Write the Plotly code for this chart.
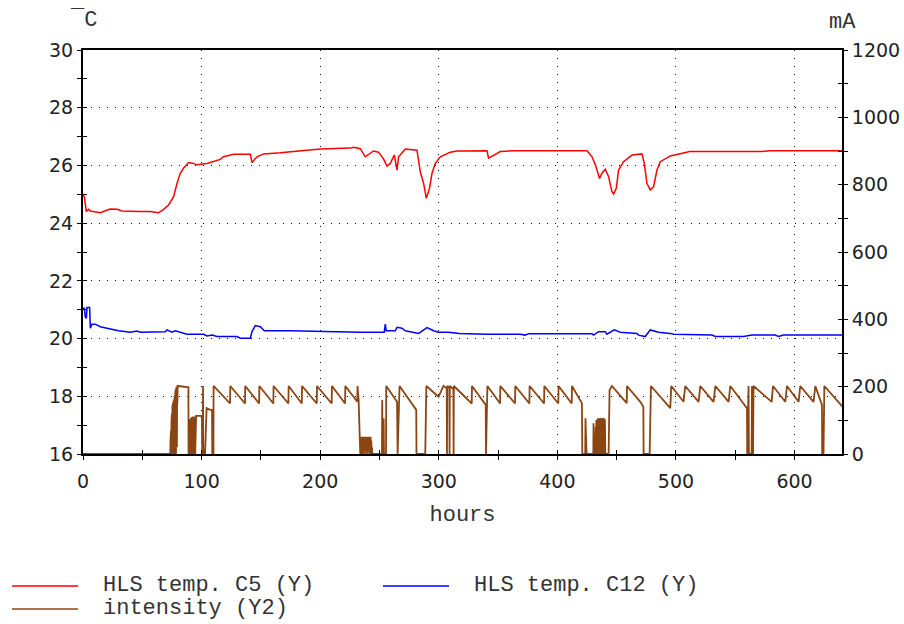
import plotly.graph_objects as go

# ---- HLS temperature at C5 (°C, left axis) ----
c5_hours = [0, 1.1, 2.8, 4.7, 6.2, 14.6, 18.8, 23.0, 28.7, 32.9, 48.3, 56.7, 63.7, 68.0, 72.2,
            76.4, 79.3, 82.0, 84.8, 89.0, 93.3, 96.1, 104.6, 110.1, 115.8, 118.5, 127.0, 141.1,
            142.5, 146.7, 152.3, 166.4, 177.6, 186.0, 200.1, 225.4, 228.2, 233.8, 238.0, 245.0,
            249.2, 253.5, 256.3, 259.1, 262.5, 264.8, 266.1, 271.8, 281.6, 284.4, 287.2, 289.5,
            292.2, 294.3, 297.1, 301.3, 309.7, 315.3, 329.3, 340.6, 342.0, 346.2, 351.9, 363.1,
            425.0, 429.2, 432.0, 435.6, 437.6, 440.4, 443.2, 446.0, 447.4, 449.7, 451.6, 455.8,
            462.9, 471.3, 473.3, 475.5, 478.3, 481.1, 484.0, 486.8, 495.2, 506.4, 511.5, 571.1,
            579.5, 640]
c5_temp = [24.98, 24.92, 24.40, 24.48, 24.42, 24.36, 24.43, 24.49, 24.48, 24.42, 24.40, 24.40,
           24.36, 24.48, 24.63, 24.92, 25.38, 25.73, 25.90, 26.10, 26.07, 26.02, 26.07, 26.15,
           26.21, 26.30, 26.39, 26.39, 26.10, 26.30, 26.40, 26.44, 26.48, 26.51, 26.57, 26.60,
           26.63, 26.58, 26.30, 26.50, 26.46, 26.22, 25.98, 26.07, 26.36, 25.84, 26.30, 26.57,
           26.53, 25.78, 25.38, 24.86, 25.21, 25.73, 26.07, 26.30, 26.46, 26.50, 26.51, 26.51,
           26.25, 26.36, 26.48, 26.51, 26.51, 26.30, 26.02, 25.55, 25.73, 25.87, 25.61, 25.09,
           25.01, 25.21, 25.84, 26.13, 26.36, 26.40, 26.07, 25.38, 25.15, 25.26, 25.84, 26.13,
           26.33, 26.43, 26.48, 26.48, 26.51, 26.51]

# ---- HLS temperature at C12 (°C, left axis) ----
c12_hours = [0, 1.1, 1.9, 2.8, 3.4, 5.6, 6.2, 7.6, 10.4, 14.6, 20.2, 30.0, 39.9, 45.5, 48.3,
             69.4, 70.8, 75.0, 77.8, 82.0, 87.7, 101.7, 104.6, 108.8, 113.0, 129.8, 132.6, 141.1,
             142.5, 145.3, 149.5, 152.9, 174.8, 233.8, 239.5, 254.0, 254.9, 255.7, 263.3, 264.8,
             269.0, 271.8, 283.0, 290.1, 295.6, 299.8, 308.3, 317.3, 340.1, 368.7, 372.9, 375.7,
             429.2, 430.5, 434.7, 440.4, 441.8, 448.0, 453.0, 467.1, 468.5, 474.1, 478.3, 485.3,
             495.2, 498.0, 530.4, 533.2, 557.0, 564.1, 583.7, 586.5, 590.7, 640]
c12_temp = [21.05, 21.05, 20.76, 20.70, 21.08, 21.08, 20.36, 20.50, 20.50, 20.41, 20.36, 20.27,
            20.22, 20.26, 20.22, 20.24, 20.30, 20.22, 20.27, 20.22, 20.15, 20.15, 20.09, 20.12,
            20.07, 20.07, 20.01, 20.01, 20.24, 20.45, 20.41, 20.27, 20.27, 20.22, 20.22, 20.22,
            20.50, 20.27, 20.27, 20.39, 20.36, 20.27, 20.18, 20.38, 20.27, 20.22, 20.22, 20.18,
            20.15, 20.15, 20.12, 20.17, 20.17, 20.12, 20.24, 20.24, 20.15, 20.30, 20.22, 20.18,
            20.12, 20.07, 20.30, 20.22, 20.18, 20.15, 20.12, 20.07, 20.07, 20.12, 20.12, 20.07,
            20.12, 20.12]

# ---- beam intensity (mA, right axis) as (hours, mA) samples ----
intensity = [
    (0, 0), (73.6, 0),
    (73.8, 40), (74.0, 0), (74.2, 70), (74.4, 0), (74.6, 95), (74.8, 0), (75.0, 120), (75.2, 0),
    (75.4, 140), (75.6, 0), (75.8, 150), (76.0, 0), (76.2, 155), (76.4, 10), (76.6, 158), (76.8, 0),
    (77.0, 160), (77.2, 20), (77.4, 175), (77.6, 0), (77.8, 185), (78.0, 40), (78.2, 190), (78.4, 0),
    (78.6, 195), (78.8, 60), (79.0, 200), (79.2, 20), (79.4, 200), (79.6, 150), (79.8, 202),
    (80.6, 202), (88.9, 198), (89.0, 0),
    (89.2, 60), (89.4, 0), (89.6, 85), (89.8, 0), (90.0, 100), (90.2, 5), (90.4, 104), (90.6, 0),
    (90.8, 106), (91.0, 10), (91.2, 108), (91.4, 0), (91.6, 108), (91.8, 0), (92.0, 110), (92.2, 20),
    (92.4, 110), (92.6, 0), (92.8, 111), (93.0, 0), (93.2, 111), (93.4, 30), (93.6, 111), (93.8, 0),
    (94.0, 111), (94.2, 10), (94.4, 111), (94.6, 0), (94.8, 113), (95.4, 113), (99.6, 113),
    (100.3, 108), (100.5, 0), (101.0, 0), (101.2, 202), (101.4, 0), (102.3, 15), (102.9, 0),
    (103.5, 60), (104.2, 136), (107.3, 131), (108.8, 131), (109.0, 0), (110.0, 0),
    (110.1, 202), (124.0, 150), (124.2, 202), (136.6, 150), (136.8, 202), (148.5, 150),
    (148.7, 202), (160.5, 150), (160.7, 202), (173.2, 150), (173.4, 202), (184.5, 150),
    (184.7, 202), (197.1, 150), (197.3, 202), (209.7, 150), (209.9, 202), (221.0, 150),
    (221.2, 202), (231.3, 155), (231.5, 202), (232.4, 160), (233.8, 0),
    (234.5, 0), (234.7, 51), (235.0, 0), (235.3, 51), (235.6, 10), (235.9, 51), (236.2, 0),
    (236.5, 45), (236.8, 0), (237.1, 51), (237.4, 20), (237.7, 51), (238.0, 0), (238.3, 40),
    (238.6, 0), (238.9, 51), (239.2, 10), (239.5, 51), (239.8, 0), (240.1, 45), (240.4, 0),
    (240.7, 51), (241.0, 15), (241.3, 51), (241.6, 0), (241.9, 35), (242.2, 0), (242.5, 51),
    (242.8, 0), (243.1, 40), (243.4, 0), (243.7, 20), (244.0, 0),
    (252.1, 0), (252.3, 160), (252.6, 0), (253.3, 0), (253.5, 106), (253.8, 0), (255.5, 0),
    (255.7, 202), (264.8, 155), (265.3, 0), (266.9, 202), (281.0, 131), (281.2, 0), (288.6, 0),
    (289.5, 202), (299.8, 170), (304.0, 202), (306.7, 195), (306.9, 0), (307.1, 202),
    (308.9, 197), (309.1, 0), (309.3, 202), (312.3, 192), (312.5, 0), (312.7, 202),
    (327.8, 150), (328.0, 202), (339.6, 146), (339.8, 0), (341.0, 202),
    (351.7, 150), (351.9, 202), (364.3, 150), (364.5, 202), (376.4, 150), (376.6, 202),
    (388.8, 150), (389.0, 202), (400.8, 150), (401.0, 202), (412.1, 150), (412.3, 202),
    (420.7, 151), (421.0, 0), (423.5, 0), (423.7, 106), (424.0, 0), (424.3, 106), (424.6, 0),
    (430.3, 0), (430.5, 91), (430.8, 0), (431.1, 60), (431.4, 0), (432.0, 0), (432.3, 80),
    (432.6, 0), (432.9, 101), (433.2, 0), (433.5, 101), (433.8, 10), (434.1, 106), (434.4, 0),
    (434.7, 106), (435.0, 20), (435.3, 104), (435.6, 0), (435.9, 106), (436.2, 15), (436.5, 104),
    (436.8, 0), (437.1, 106), (437.4, 10), (437.7, 106), (438.0, 0), (438.3, 106), (438.6, 20),
    (438.9, 104), (439.2, 0), (439.5, 104), (439.8, 10), (440.1, 101), (440.4, 0), (443.2, 0),
    (444.0, 190), (446.0, 202), (458.5, 151), (458.7, 202), (469.9, 155), (472.5, 140),
    (472.7, 0), (477.8, 0), (478.9, 202), (495.2, 136), (496.0, 202), (506.4, 155),
    (507.8, 202), (519.1, 155), (520.5, 202), (531.7, 155), (533.2, 202), (544.4, 155),
    (545.8, 202), (559.9, 136), (560.1, 0), (561.2, 202), (561.5, 0), (563.8, 0), (564.1, 202),
    (564.5, 0), (565.0, 0), (565.4, 202), (580.7, 155), (581.8, 202), (592.2, 155),
    (593.6, 202), (603.4, 155), (604.8, 202), (616.0, 155), (617.5, 202), (623.1, 146),
    (623.3, 0), (624.4, 0), (625.1, 202), (640, 142),
]
int_hours = [p[0] for p in intensity]
int_ma = [p[1] for p in intensity]

series = [
    dict(name="HLS temp. C5 (Y)", x=c5_hours, y=c5_temp, color="#ff0000", width=1.5, axis="y"),
    dict(name="HLS temp. C12 (Y)", x=c12_hours, y=c12_temp, color="#0000ff", width=1.5, axis="y"),
    dict(name="intensity (Y2)", x=int_hours, y=int_ma, color="#8b4513", width=1.8, axis="y2"),
]

X_RANGE = [0, 640]
T_RANGE = [16, 30]
MA_RANGE = [0, 1200]

TICK_FONT = dict(family="DejaVu Sans", size=19, color="#222222")
MONO_FONT = dict(family="Liberation Mono", size=22, color="#333333")
GRID_DASH = "1px,7px"
TICK_LEN = 4

fig = go.Figure()
for s in series:
    fig.add_trace(go.Scatter(x=s["x"], y=s["y"], name=s["name"], mode="lines",
                             line=dict(color=s["color"], width=s["width"]),
                             yaxis=s["axis"], showlegend=False))

# empty traces that hook up the overlay axes carrying the inward half of each tick
fig.add_trace(go.Scatter(x=[], y=[], xaxis="x2", yaxis="y3", showlegend=False, hoverinfo="skip"))
fig.add_trace(go.Scatter(x=[], y=[], xaxis="x2", yaxis="y4", showlegend=False, hoverinfo="skip"))

axis_common = dict(showline=True, linecolor="black", linewidth=2, ticks="outside",
                   ticklen=TICK_LEN, tickwidth=1, tickcolor="black", tickfont=TICK_FONT,
                   zeroline=False, automargin=False)
inner_common = dict(showline=False, showgrid=False, zeroline=False, showticklabels=False,
                    ticks="inside", ticklen=TICK_LEN, tickwidth=1, tickcolor="black",
                    automargin=False)

fig.update_layout(
    width=904, height=624,
    margin=dict(l=83, r=62, t=50, b=170),
    paper_bgcolor="white", plot_bgcolor="white",
    xaxis=dict(range=X_RANGE, tick0=0, dtick=100, mirror=True,
               showgrid=True, gridcolor="black", gridwidth=1, griddash=GRID_DASH,
               minor=dict(dtick=50, ticks="outside", ticklen=TICK_LEN, tickcolor="black",
                          showgrid=False),
               ticklabelstandoff=5,
               title=dict(text="hours", font=MONO_FONT, standoff=15),
               **axis_common),
    yaxis=dict(range=T_RANGE, tick0=16, dtick=2,
               showgrid=True, gridcolor="black", gridwidth=1, griddash=GRID_DASH,
               minor=dict(dtick=1, ticks="outside", ticklen=TICK_LEN, tickcolor="black",
                          showgrid=False),
               **axis_common),
    yaxis2=dict(range=MA_RANGE, tick0=0, dtick=200, overlaying="y", side="right",
                showgrid=False,
                minor=dict(dtick=100, ticks="outside", ticklen=TICK_LEN, tickcolor="black",
                           showgrid=False),
                **axis_common),
    xaxis2=dict(range=X_RANGE, tick0=0, dtick=100, overlaying="x", anchor="y3", side="bottom",
                minor=dict(dtick=50, ticks="inside", ticklen=TICK_LEN, tickcolor="black"),
                **inner_common),
    yaxis3=dict(range=T_RANGE, tick0=16, dtick=2, overlaying="y", anchor="x2", side="left",
                minor=dict(dtick=1, ticks="inside", ticklen=TICK_LEN, tickcolor="black"),
                **inner_common),
    yaxis4=dict(range=MA_RANGE, tick0=0, dtick=200, overlaying="y", anchor="x2", side="right",
                minor=dict(dtick=100, ticks="inside", ticklen=TICK_LEN, tickcolor="black"),
                **inner_common),
)

# axis unit captions
fig.add_annotation(text="¯C", x=0, y=1, xref="paper", yref="paper", xanchor="center",
                   yanchor="middle", yshift=30, showarrow=False, font=MONO_FONT)
fig.add_annotation(text="mA", x=1, y=1, xref="paper", yref="paper", xanchor="center",
                   yanchor="middle", yshift=28, showarrow=False, font=MONO_FONT)

# legend drawn below the plot: line sample + label per series
legend_slots = [(-71, -132), (300, -132), (-71, -155)]
for s, (dx, dy) in zip(series, legend_slots):
    fig.add_shape(type="line", xref="paper", yref="paper", xsizemode="pixel",
                  ysizemode="pixel", xanchor=0, yanchor=0, x0=dx, x1=dx + 66, y0=dy, y1=dy,
                  line=dict(color=s["color"], width=1.5))
    fig.add_annotation(text=s["name"], x=0, y=0, xref="paper", yref="paper",
                       xanchor="left", yanchor="middle", xshift=dx + 89, yshift=dy + 1,
                       showarrow=False, font=MONO_FONT)

fig.write_html("out.html")
